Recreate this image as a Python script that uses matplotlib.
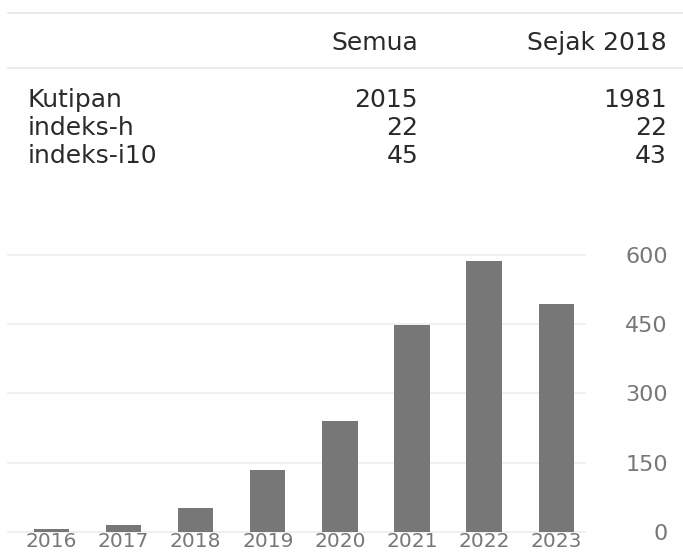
import matplotlib
matplotlib.use("Agg")
import matplotlib.pyplot as plt
from matplotlib.lines import Line2D

plt.rcParams['font.family'] = ['DejaVu Sans']

# ---- data ----
years = ["2016", "2017", "2018", "2019", "2020", "2021", "2022", "2023"]
citations = [5, 14, 51, 134, 241, 448, 588, 494]
y_ticks = [0, 150, 300, 450, 600]

col_headers = ["Semua", "Sejak 2018"]
row_labels = ["Kutipan", "indeks-h", "indeks-i10"]
all_values = ["2015", "22", "45"]
since_values = ["1981", "22", "43"]

W, H = 683, 552
fig = plt.figure(figsize=(W / 100, H / 100), dpi=100)
fig.patch.set_facecolor("white")


def fx(px):
    return px / W


def fy(py):
    return 1 - py / H


# ---- table ----
line_col = "#e6e6e6"
for yy in (13, 68):
    fig.add_artist(Line2D([fx(8), fx(683)], [fy(yy), fy(yy)], color=line_col,
                          lw=1.2, transform=fig.transFigure))

txt_col = "#2a2a2a"
fs_tab = 18
col_x = [418, 667]
for cx, h in zip(col_x, col_headers):
    fig.text(fx(cx), fy(50), h, ha="right", va="baseline", fontsize=fs_tab, color=txt_col)

row_base = [107, 135, 163]
for yb, lab, a, s in zip(row_base, row_labels, all_values, since_values):
    fig.text(fx(28), fy(yb), lab, ha="left", va="baseline", fontsize=fs_tab, color=txt_col)
    fig.text(fx(col_x[0]), fy(yb), a, ha="right", va="baseline", fontsize=fs_tab, color=txt_col)
    fig.text(fx(col_x[1]), fy(yb), s, ha="right", va="baseline", fontsize=fs_tab, color=txt_col)

# ---- bar chart ----
ax_left, ax_right = 8, 585
ax_top, ax_bottom = 255, 531.7
ax = fig.add_axes([fx(ax_left), fy(ax_bottom), (ax_right - ax_left) / W, (ax_bottom - ax_top) / H])
x = list(range(len(years)))
ax.bar(x, citations, width=0.49, color="#777777", zorder=3)
ax.set_xlim(-0.604, 7.40)
ax.set_ylim(0, 600)
for s in ax.spines.values():
    s.set_visible(False)
ax.set_yticks(y_ticks)
ax.yaxis.tick_right()
ax.tick_params(axis="y", length=0, pad=(668 - ax_right) * 0.72, labelsize=16, labelcolor="#777777")
for lbl in ax.get_yticklabels():
    lbl.set_ha("right")
ax.yaxis.grid(True, color="#eeeeee", lw=1.2, zorder=0)
for gl in ax.get_ygridlines():
    gl.set_clip_on(False)
ax.set_xticks(x)
ax.set_xticklabels(years)
ax.tick_params(axis="x", length=0, pad=0.5, labelsize=14.5, labelcolor="#777777")

fig.savefig("out.png", dpi=100, facecolor="white")
